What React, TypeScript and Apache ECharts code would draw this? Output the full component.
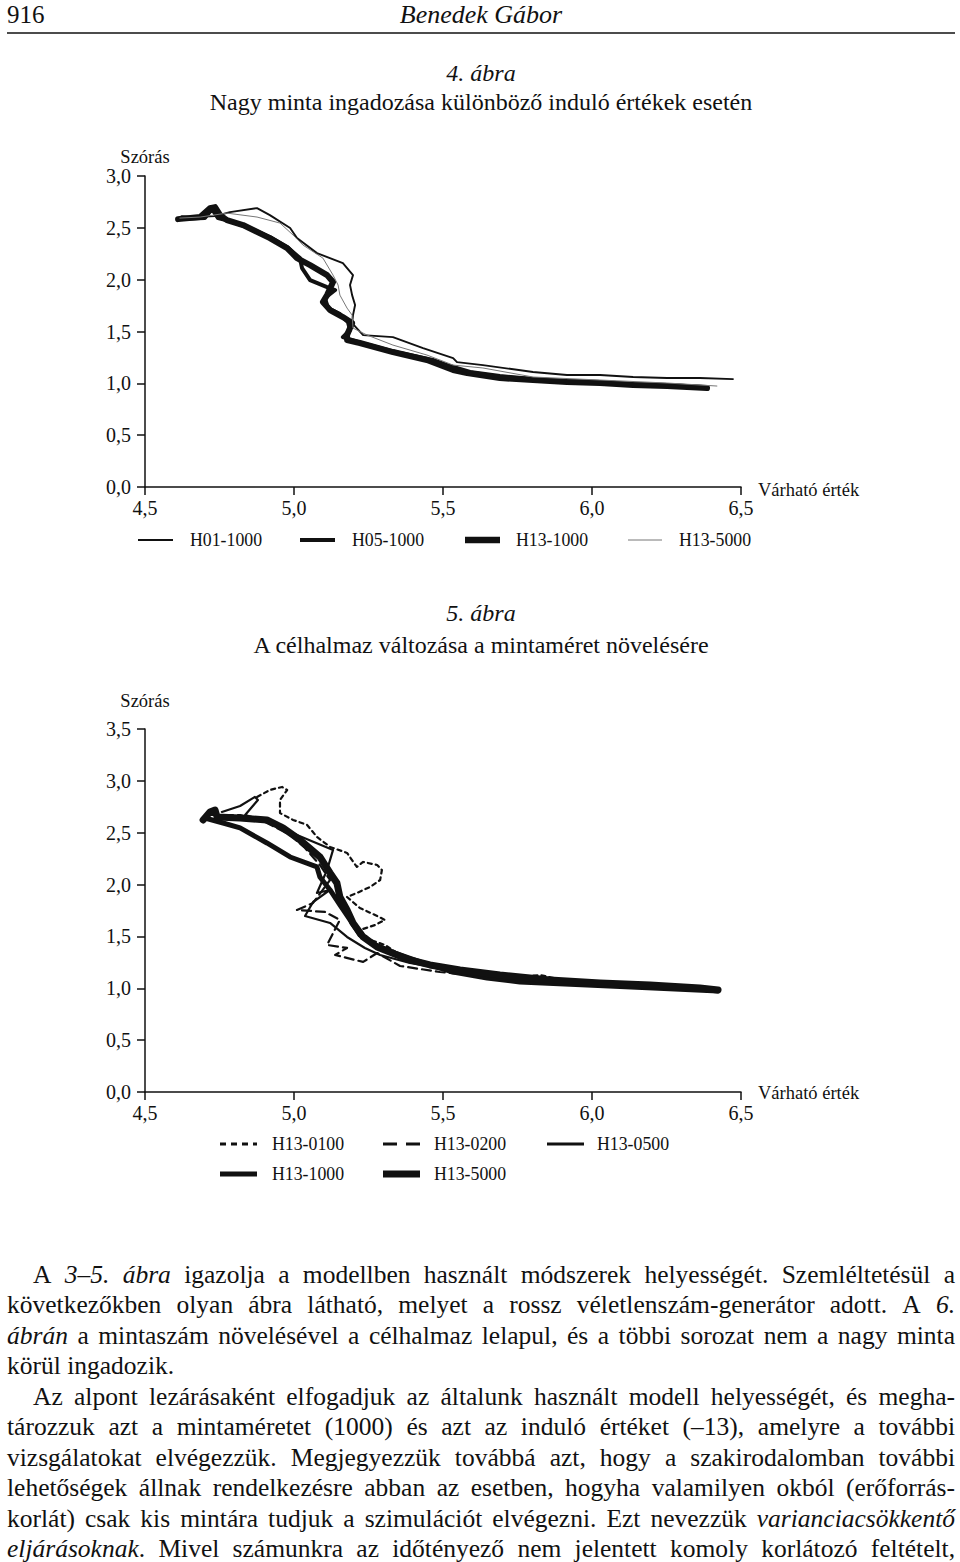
import React, { useEffect, useRef } from "react";
import * as echarts from "echarts";

const FONT = '"Liberation Serif", "Times New Roman", serif';

// ---------- Figure 4 data (x = Várható érték, y = Szórás) ----------
const fig4Names = ["H01-1000", "H05-1000", "H13-1000", "H13-5000"];
const fig4H01_1000 = [
  [4.611, 2.594], [4.624, 2.613], [4.668, 2.604], [4.735, 2.613], [4.785, 2.652], [4.876, 2.69],
  [4.919, 2.623], [4.987, 2.498], [5.01, 2.401], [5.077, 2.256], [5.164, 2.16], [5.198, 2.044],
  [5.188, 1.948], [5.195, 1.851], [5.205, 1.755], [5.198, 1.658], [5.195, 1.581], [5.232, 1.465],
  [5.332, 1.446], [5.433, 1.34], [5.534, 1.244], [5.547, 1.205], [5.634, 1.176], [5.802, 1.109],
  [5.916, 1.08], [6.027, 1.08], [6.138, 1.061], [6.252, 1.051], [6.362, 1.051], [6.473, 1.041],
];
const fig4H05_1000 = [
  [4.617, 2.584], [4.701, 2.594], [4.725, 2.681], [4.745, 2.594], [4.785, 2.565], [4.852, 2.498],
  [4.926, 2.401], [4.977, 2.314], [5.02, 2.208], [5.027, 2.112], [5.054, 1.996], [5.111, 1.929],
  [5.138, 1.9], [5.104, 1.823], [5.114, 1.726], [5.154, 1.668], [5.181, 1.591], [5.188, 1.514],
  [5.164, 1.446], [5.238, 1.379], [5.356, 1.292], [5.466, 1.225], [5.523, 1.167], [5.591, 1.109],
  [5.691, 1.07], [5.802, 1.041], [5.916, 1.022], [6.027, 1.013], [6.138, 0.993], [6.252, 0.984],
  [6.372, 0.964],
];
const fig4H13_1000 = [
  [4.611, 2.584], [4.685, 2.604], [4.718, 2.69], [4.735, 2.7], [4.752, 2.623], [4.775, 2.575],
  [4.829, 2.527], [4.919, 2.401], [4.977, 2.305], [5.01, 2.208], [5.054, 2.141], [5.111, 2.044],
  [5.131, 1.977], [5.111, 1.851], [5.097, 1.784], [5.121, 1.707], [5.164, 1.639], [5.195, 1.581],
  [5.178, 1.466], [5.178, 1.418], [5.221, 1.389], [5.332, 1.302], [5.446, 1.225], [5.534, 1.128],
  [5.581, 1.099], [5.691, 1.051], [5.802, 1.032], [5.916, 1.013], [6.027, 1.003], [6.138, 0.984],
  [6.252, 0.974], [6.386, 0.955],
];
const fig4H13_5000 = [
  [4.617, 2.594], [4.685, 2.604], [4.775, 2.642], [4.876, 2.604], [4.953, 2.546], [4.997, 2.43],
  [5.03, 2.334], [5.097, 2.208], [5.131, 2.044], [5.148, 1.948], [5.154, 1.851], [5.178, 1.726],
  [5.195, 1.658], [5.198, 1.533], [5.245, 1.466], [5.332, 1.369], [5.446, 1.273], [5.534, 1.176],
  [5.634, 1.148], [5.802, 1.061], [6.027, 1.032], [6.252, 1.003], [6.419, 0.974],
];

// ---------- Figure 5 data ----------
const fig5Names = ["H13-0100", "H13-0200", "H13-0500", "H13-1000", "H13-5000"];
const fig5H13_0100 = [
  [4.876, 2.845], [4.919, 2.912], [4.96, 2.941], [4.977, 2.912], [4.953, 2.816], [4.953, 2.69],
  [4.997, 2.623], [5.044, 2.575], [5.077, 2.459], [5.121, 2.363], [5.178, 2.305], [5.211, 2.17],
  [5.232, 2.218], [5.279, 2.189], [5.295, 2.141], [5.289, 2.044], [5.255, 1.977], [5.211, 1.919],
  [5.178, 1.88], [5.221, 1.774], [5.272, 1.707], [5.305, 1.659], [5.272, 1.61], [5.221, 1.562],
  [5.255, 1.466], [5.305, 1.418], [5.356, 1.321], [5.456, 1.225], [5.591, 1.157], [5.725, 1.099],
  [5.826, 1.128], [5.96, 1.041], [6.161, 1.022], [6.362, 1.003], [6.423, 0.984],
];
const fig5H13_0200 = [
  [4.718, 2.671], [4.819, 2.671], [4.903, 2.604], [4.987, 2.478], [5.037, 2.353], [5.087, 2.189],
  [5.121, 2.044], [5.064, 1.823], [5.01, 1.755], [5.104, 1.736], [5.154, 1.659], [5.111, 1.418],
  [5.178, 1.389], [5.138, 1.321], [5.232, 1.254], [5.279, 1.34], [5.356, 1.215], [5.49, 1.157],
  [5.624, 1.119], [5.758, 1.109], [5.893, 1.051], [6.094, 1.022], [6.295, 1.003], [6.423, 0.984],
];
const fig5H13_0500 = [
  [4.758, 2.7], [4.819, 2.758], [4.869, 2.845], [4.879, 2.816], [4.836, 2.671], [4.919, 2.604],
  [5.01, 2.478], [5.131, 2.334], [5.111, 2.141], [5.077, 1.919], [5.121, 1.948], [5.064, 1.832],
  [5.037, 1.697], [5.121, 1.63], [5.178, 1.495], [5.238, 1.389], [5.289, 1.321], [5.389, 1.244],
  [5.523, 1.176], [5.658, 1.109], [5.792, 1.07], [5.993, 1.032], [6.195, 1.013], [6.423, 0.993],
];
const fig5H13_1000 = [
  [4.701, 2.642], [4.762, 2.594], [4.819, 2.546], [4.909, 2.401], [4.987, 2.266], [5.077, 2.17],
  [5.087, 2.073], [5.121, 1.948], [5.154, 1.803], [5.188, 1.659], [5.221, 1.514], [5.272, 1.418],
  [5.339, 1.34], [5.423, 1.254], [5.534, 1.157], [5.648, 1.099], [5.758, 1.061], [5.983, 1.032],
  [6.205, 1.003], [6.423, 0.974],
];
const fig5H13_5000 = [
  [4.695, 2.623], [4.718, 2.7], [4.735, 2.719], [4.742, 2.652], [4.819, 2.642], [4.909, 2.623],
  [4.963, 2.546], [5.02, 2.43], [5.087, 2.266], [5.121, 2.112], [5.144, 2.015], [5.154, 1.88],
  [5.178, 1.755], [5.198, 1.63], [5.232, 1.495], [5.279, 1.398], [5.346, 1.321], [5.389, 1.273],
  [5.456, 1.225], [5.557, 1.176], [5.691, 1.128], [5.859, 1.08], [6.027, 1.051], [6.195, 1.032],
  [6.362, 1.003], [6.423, 0.984],
];

// ---------- Axis ranges ----------
const xMin = 4.5;
const xMax = 6.5;
const tickStep = 0.5;
const fig4YMax = 3.0;
const fig5YMax = 3.5;

// ---------- Texts ----------
const pageNumber = "916";
const runningHead = "Benedek Gábor";
const fig4Label = "4. ábra";
const fig4Title = "Nagy minta ingadozása különböző induló értékek esetén";
const fig5Label = "5. ábra";
const fig5Title = "A célhalmaz változása a mintaméret növelésére";
const yAxisName = "Szórás";
const xAxisName = "Várható érték";
const bodyLines = [
  { indent: true, justify: true, text: "A _3–5._ _ábra_ igazolja a modellben használt módszerek helyességét. Szemléltetésül a" },
  { indent: false, justify: true, text: "következőkben olyan ábra látható, melyet a rossz véletlenszám-generátor adott. A _6._" },
  { indent: false, justify: true, text: "_ábrán_ a mintaszám növelésével a célhalmaz lelapul, és a többi sorozat nem a nagy minta" },
  { indent: false, justify: false, text: "körül ingadozik." },
  { indent: true, justify: true, text: "Az alpont lezárásaként elfogadjuk az általunk használt modell helyességét, és megha-" },
  { indent: false, justify: true, text: "tározzuk azt a mintaméretet (1000) és azt az induló értéket (–13), amelyre a további" },
  { indent: false, justify: true, text: "vizsgálatokat elvégezzük. Megjegyezzük továbbá azt, hogy a szakirodalomban további" },
  { indent: false, justify: true, text: "lehetőségek állnak rendelkezésre abban az esetben, hogyha valamilyen okból (erőforrás-" },
  { indent: false, justify: true, text: "korlát) csak kis mintára tudjuk a szimulációt elvégezni. Ezt nevezzük _varianciacsökkentő_" },
  { indent: false, justify: true, text: "_eljárásoknak_. Mivel számunkra az időtényező nem jelentett komoly korlátozó feltételt," },
];

const INK = "#111";

function fmt(v: number) {
  return v.toFixed(1).replace(".", ",");
}

function txt(x: number, y: number, text: string, size: number, align: string, italic = false) {
  return {
    type: "text",
    x,
    y,
    silent: true,
    style: {
      text,
      fill: INK,
      font: `${italic ? "italic " : ""}${size}px ${FONT}`,
      textAlign: align,
      textVerticalAlign: "middle",
    },
  };
}

function legendLine(x1: number, x2: number, y: number, width: number, color = INK, dash: number[] | null = null) {
  return {
    type: "line",
    silent: true,
    shape: { x1, y1: y, x2, y2: y },
    style: { stroke: color, lineWidth: width, lineDash: dash || undefined },
  };
}

function buildBody(): any[] {
  const canvas = document.createElement("canvas");
  const ctx = canvas.getContext("2d") as CanvasRenderingContext2D;
  const SIZE = 25.5;
  const TOP = 1274.5;
  const LEAD = 30.45;
  const RIGHT = 955;
  const els: any[] = [];
  ctx.font = `${SIZE}px ${FONT}`;
  const sp = ctx.measureText(" ").width;
  bodyLines.forEach((ln, i) => {
    const y = TOP + i * LEAD;
    const words = ln.text
      .split(" ")
      .map((w) => w.split("_").map((t, k) => ({ t, it: k % 2 === 1 })).filter((s) => s.t));
    const widths = words.map((segs) =>
      segs.map((s) => {
        ctx.font = `${s.it ? "italic " : ""}${SIZE}px ${FONT}`;
        return ctx.measureText(s.t).width;
      })
    );
    const wordW = widths.map((a) => a.reduce((p, c) => p + c, 0));
    const total = wordW.reduce((p, c) => p + c, 0);
    const left = ln.indent ? 33 : 7;
    const W = RIGHT - left;
    const gaps = words.length - 1;
    let scale = 1;
    let gap = sp;
    if (ln.justify && gaps > 0) {
      gap = (W - total) / gaps;
      const minGap = sp * 0.6;
      if (gap < minGap) {
        scale = (W - gaps * minGap) / total;
        gap = minGap;
      }
    }
    let x = left;
    words.forEach((segs, wi) => {
      segs.forEach((s, si) => {
        els.push({
          type: "text",
          x,
          y,
          scaleX: scale,
          silent: true,
          style: {
            text: s.t,
            fill: INK,
            font: `${s.it ? "italic " : ""}${SIZE}px ${FONT}`,
            textAlign: "left",
            textVerticalAlign: "middle",
          },
        });
        x += widths[wi][si] * scale;
      });
      x += gap;
    });
  });
  return els;
}

function axisCommon() {
  return {
    axisLine: { show: true, onZero: false, lineStyle: { color: INK, width: 1.5 } },
    axisTick: { show: true, length: 8, lineStyle: { color: INK, width: 1.5 } },
    splitLine: { show: false },
  };
}

function lineSeries(name: string, data: number[][], idx: number, width: number, color = INK, dash: any = "solid") {
  return {
    type: "line",
    name,
    data,
    xAxisIndex: idx,
    yAxisIndex: idx,
    showSymbol: false,
    symbol: "none",
    silent: true,
    clip: false,
    lineStyle: { color, width, type: dash, cap: "round", join: "round" },
  };
}

export default function App() {
  const ref = useRef<HTMLDivElement>(null);
  useEffect(() => {
    document.body.style.margin = "0";
    if (!ref.current) return;
    const chart = echarts.init(ref.current, null, { renderer: "svg" });

    const xAxes = [0, 1].map((g) => ({
      gridIndex: g,
      type: "value",
      min: xMin,
      max: xMax,
      interval: tickStep,
      ...axisCommon(),
      axisLabel: { margin: 11, fontFamily: FONT, fontSize: 20, color: INK, formatter: fmt },
    }));
    const yAxes = [fig4YMax, fig5YMax].map((mx, g) => ({
      gridIndex: g,
      type: "value",
      min: 0,
      max: mx,
      interval: tickStep,
      ...axisCommon(),
      axisLabel: { margin: 14, fontFamily: FONT, fontSize: 20, color: INK, formatter: fmt },
    }));

    const LS = 17.8;
    const graphics: any[] = [
      txt(7, 14, pageNumber, 25, "left"),
      txt(481, 14, runningHead, 26, "center", true),
      { type: "line", silent: true, shape: { x1: 7, y1: 33, x2: 955, y2: 33 }, style: { stroke: INK, lineWidth: 1.5 } },
      txt(481, 73, fig4Label, 24, "center", true),
      txt(481, 102, fig4Title, 24, "center"),
      txt(145, 157, yAxisName, 18.5, "center"),
      txt(758, 490, xAxisName, 18.5, "left"),
      // legend fig 4
      legendLine(138, 173, 540, 2),
      txt(190, 540, fig4Names[0], LS, "left"),
      legendLine(300, 335, 540, 4),
      txt(352, 540, fig4Names[1], LS, "left"),
      legendLine(465, 500, 540, 6.5),
      txt(516, 540, fig4Names[2], LS, "left"),
      legendLine(628, 662, 540, 1, "#777"),
      txt(679, 540, fig4Names[3], LS, "left"),
      // fig 5 titles
      txt(481, 613, fig5Label, 24, "center", true),
      txt(481, 645, fig5Title, 24, "center"),
      txt(145, 701, yAxisName, 18.5, "center"),
      txt(758, 1093, xAxisName, 18.5, "left"),
      // legend fig 5
      legendLine(220, 257, 1144, 3, INK, [6, 5]),
      txt(272, 1144, fig5Names[0], LS, "left"),
      legendLine(383, 420, 1144, 3, INK, [14, 9]),
      txt(434, 1144, fig5Names[1], LS, "left"),
      legendLine(547, 584, 1144, 3),
      txt(597, 1144, fig5Names[2], LS, "left"),
      legendLine(220, 257, 1174, 5),
      txt(272, 1174, fig5Names[3], LS, "left"),
      legendLine(383, 420, 1174, 7),
      txt(434, 1174, fig5Names[4], LS, "left"),
      ...buildBody(),
    ];

    chart.setOption({
      animation: false,
      backgroundColor: "#fff",
      grid: [
        { left: 145, top: 176, width: 596, height: 311 },
        { left: 145, top: 729, width: 596, height: 363 },
      ],
      xAxis: xAxes,
      yAxis: yAxes,
      series: [
        lineSeries(fig4Names[2], fig4H13_1000, 0, 6),
        lineSeries(fig4Names[1], fig4H05_1000, 0, 4),
        lineSeries(fig4Names[0], fig4H01_1000, 0, 1.9),
        lineSeries(fig4Names[3], fig4H13_5000, 0, 1, "#777"),
        lineSeries(fig5Names[0], fig5H13_0100, 1, 2.2, INK, [4, 4]),
        lineSeries(fig5Names[1], fig5H13_0200, 1, 2.2, INK, [9, 5]),
        lineSeries(fig5Names[2], fig5H13_0500, 1, 2.2),
        lineSeries(fig5Names[3], fig5H13_1000, 1, 5),
        lineSeries(fig5Names[4], fig5H13_5000, 1, 7),
      ],
      graphic: graphics,
    });
    return () => chart.dispose();
  }, []);
  return <div ref={ref} style={{ width: 960, height: 1562, background: "#fff" }} />;
}
